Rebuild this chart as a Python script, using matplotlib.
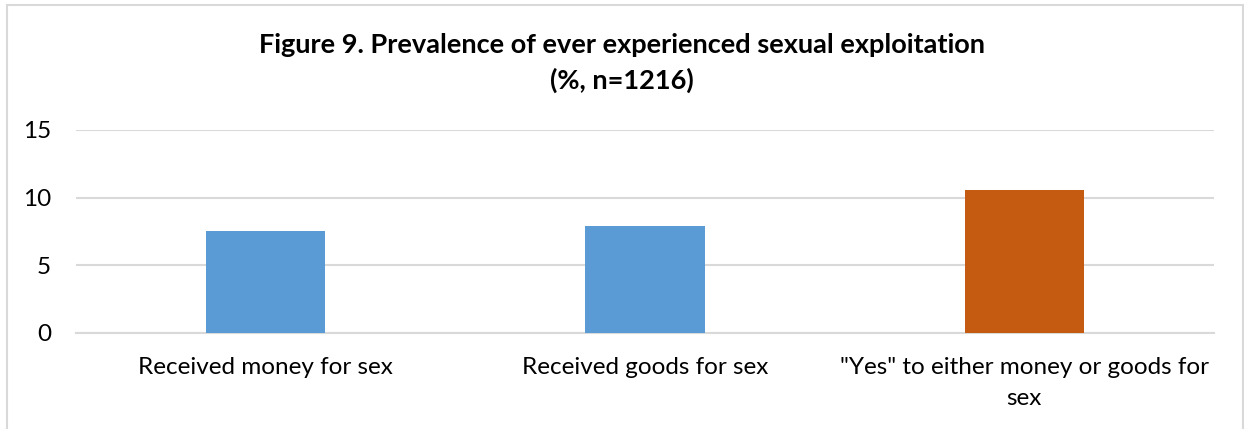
from matplotlib import pyplot as plt
from matplotlib.patches import Rectangle

plt.rcParams['font.family'] = ['Lato', 'DejaVu Sans']

# Data
categories = ['Received money for sex', 'Received goods for sex',
              '"Yes" to either money or goods for\nsex']
values = [7.5, 7.9, 10.6]
bar_colors = ['#5B9BD5', '#5B9BD5', '#C55A11']
y_ticks = [0, 5, 10, 15]

fig = plt.figure(figsize=(12.44, 4.29), dpi=100)
ax = fig.add_axes([0.0611, 0.2238, 0.9148, 0.4732])

# Chart border like the Excel frame
fig.patches.append(Rectangle((0.0056, -0.05), 0.9935, 1.038, transform=fig.transFigure,
                             fill=False, edgecolor='#d9d9d9', linewidth=1.5))

x = range(len(categories))
ax.bar(x, values, width=0.314, color=bar_colors, zorder=3)

ax.set_xlim(-0.5, 2.5)
ax.set_ylim(0, 15)
ax.set_yticks(y_ticks)
ax.set_yticklabels([str(t) for t in y_ticks], fontsize=17.5)
ax.set_xticks(list(x))
ax.set_xticklabels(categories, fontsize=17.5, linespacing=1.6)
ax.tick_params(axis='both', length=0, colors='black')
ax.tick_params(axis='x', pad=17)
ax.tick_params(axis='y', pad=18)

ax.grid(axis='y', color='#d9d9d9', linewidth=1.5, zorder=0)
for side in ['top', 'right', 'left']:
    ax.spines[side].set_visible(False)
ax.spines['bottom'].set_color('#d9d9d9')
ax.spines['bottom'].set_linewidth(1.5)

# Title
fig.text(0.5, 0.853, 'Figure 9. Prevalence of ever experienced sexual exploitation\n(%, n=1216)',
         ha='center', va='center', fontsize=19.5, fontweight='bold', linespacing=1.5)

plt.savefig('out.png', dpi=100)
